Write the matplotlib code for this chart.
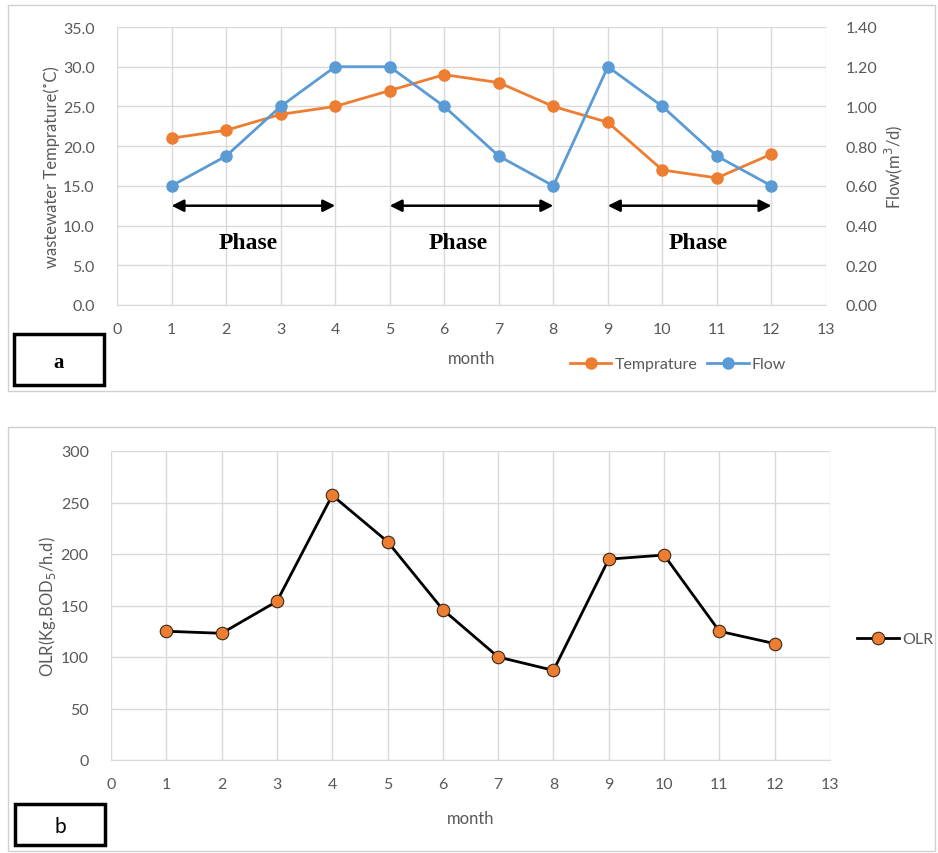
import matplotlib.pyplot as plt
from matplotlib.patches import Rectangle

months = [1, 2, 3, 4, 5, 6, 7, 8, 9, 10, 11, 12]
temperature = [21, 22, 24, 25, 27, 29, 28, 25, 23, 17, 16, 19]
flow = [0.60, 0.75, 1.00, 1.20, 1.20, 1.00, 0.75, 0.60, 1.20, 1.00, 0.75, 0.60]
olr = [125, 123, 154, 257, 212, 146, 100, 87, 195, 199, 125, 113]

phases = [(1, 4), (5, 8), (9, 12)]
phase_text_x = [2.4, 6.25, 10.65]

ORANGE = '#ED7D31'
BLUE = '#5B9BD5'
GRID = '#D9D9D9'
TXT = '#595959'

plt.rcParams['font.family'] = ['Lato', 'DejaVu Sans']
plt.rcParams['font.size'] = 11.5

fig = plt.figure(figsize=(9.38, 8.54), dpi=100)

# panel frames
fig.patches.append(Rectangle((8 / 938, 1 - 392 / 854), 927 / 938, 386 / 854,
                             transform=fig.transFigure, fill=False, ec='#D0D0D0', lw=1))
fig.patches.append(Rectangle((8 / 938, 1 - 852 / 854), 927 / 938, 424 / 854,
                             transform=fig.transFigure, fill=False, ec='#D0D0D0', lw=1))


def style_axes(ax):
    for s in ax.spines.values():
        s.set_visible(False)
    ax.spines['bottom'].set_visible(True)
    ax.spines['bottom'].set_color(GRID)
    ax.grid(True, color=GRID, lw=1)
    ax.set_axisbelow(True)
    ax.tick_params(length=0, colors=TXT, labelsize=11.5)


# ---- panel a ----
ax1 = fig.add_axes([117 / 938, 1 - 306 / 854, 709 / 938, 278 / 854])
style_axes(ax1)
ax1.set_xlim(0, 13)
ax1.set_ylim(0, 35)
ax1.set_xticks(range(0, 14))
ax1.set_yticks([0, 5, 10, 15, 20, 25, 30, 35])
ax1.set_yticklabels([f'{v:.1f}' for v in ax1.get_yticks()])
ax1.tick_params(axis='x', pad=12)
ax1.tick_params(axis='y', pad=16)
l1, = ax1.plot(months, temperature, color=ORANGE, lw=2, marker='o', ms=8, label='Temprature', zorder=3)
ax1.set_xlabel('month', color=TXT, fontsize=12, labelpad=10)
ax1.set_ylabel('wastewater Temprature(˚C)', color=TXT, fontsize=12, labelpad=2)

ax2 = ax1.twinx()
for s in ax2.spines.values():
    s.set_visible(False)
ax2.set_ylim(0, 1.4)
ax2.set_yticks([0, 0.2, 0.4, 0.6, 0.8, 1.0, 1.2, 1.4])
ax2.set_yticklabels([f'{v:.2f}' for v in ax2.get_yticks()])
ax2.tick_params(length=0, colors=TXT, labelsize=11.5, pad=14)
l2, = ax2.plot(months, flow, color=BLUE, lw=2, marker='o', ms=8, label='Flow', zorder=3)
ax2.set_ylabel('Flow(m$^3$/d)', color=TXT, fontsize=12, labelpad=4)

for (a, b), tx in zip(phases, phase_text_x):
    ax1.annotate('', xy=(b, 12.5), xytext=(a, 12.5),
                 arrowprops=dict(arrowstyle='<|-|>', color='black', lw=1.8, mutation_scale=18,
                                 shrinkA=0, shrinkB=0))
    ax1.text(tx, 7.9, 'Phase', ha='center', va='center', fontsize=17, fontweight='bold',
             family='Liberation Serif')

fig.legend([l1, l2], ['Temprature', 'Flow'], loc='center', bbox_to_anchor=(678 / 938, 1 - 365 / 854),
           ncol=2, frameon=False, fontsize=11.5, labelcolor=TXT, handlelength=2.6,
           columnspacing=0.6, handletextpad=0.2)

fig.patches.append(Rectangle((14 / 938, 1 - 386 / 854), 90 / 938, 51 / 854,
                             transform=fig.transFigure, fill=False, ec='black', lw=2.5))
fig.text(59 / 938, 1 - 363 / 854, 'a', ha='center', va='center', fontsize=15, fontweight='bold',
         family='Liberation Serif')

# ---- panel b ----
ax3 = fig.add_axes([111 / 938, 1 - 761 / 854, 719 / 938, 309 / 854])
style_axes(ax3)
ax3.set_xlim(0, 13)
ax3.set_ylim(0, 300)
ax3.set_xticks(range(0, 14))
ax3.set_yticks(range(0, 301, 50))
ax3.tick_params(axis='x', pad=12)
ax3.tick_params(axis='y', pad=16)
l3, = ax3.plot(months, olr, color='black', lw=2, marker='o', ms=9, mfc=ORANGE, mec='#3A2A1A',
               mew=0.8, label='OLR', zorder=3)
ax3.set_xlabel('month', color=TXT, fontsize=12, labelpad=14)
ax3.set_ylabel('OLR(Kg.BOD$_5$/h.d)', color=TXT, fontsize=12, labelpad=2)

fig.legend([l3], ['OLR'], loc='center left', bbox_to_anchor=(843 / 938, 1 - 640 / 854),
           frameon=False, fontsize=11.5, labelcolor=TXT, handlelength=2.6, handletextpad=0.2)

fig.patches.append(Rectangle((15 / 938, 1 - 846 / 854), 90 / 938, 41 / 854,
                             transform=fig.transFigure, fill=False, ec='black', lw=2.5))
fig.text(60 / 938, 1 - 827 / 854, 'b', ha='center', va='center', fontsize=15)

fig.savefig('out.png', dpi=100)
